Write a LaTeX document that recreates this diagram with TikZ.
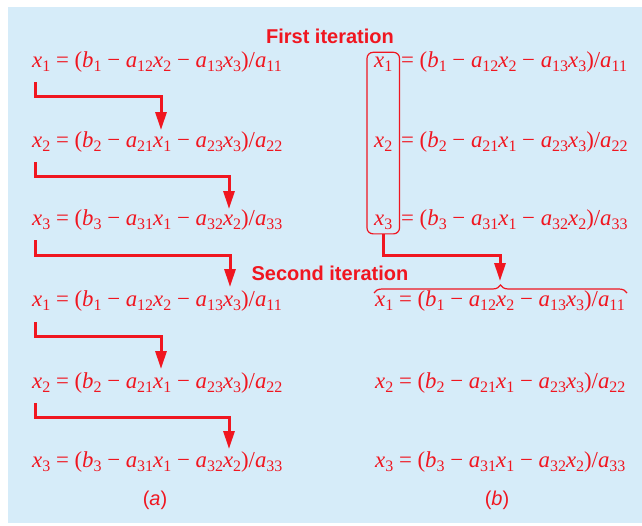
\documentclass[tikz,border=0pt]{standalone}
\usepackage{fontspec}
\setmainfont{Liberation Serif}
\newfontfamily\hdfont{Liberation Sans}
\usetikzlibrary{arrows.meta,decorations.pathreplacing,fit}
\definecolor{eqred}{RGB}{240,22,32}
\definecolor{bgblue}{RGB}{214,236,249}
\newcommand\mysub[1]{\raisebox{-4.5pt}{\fontsize{16}{16}\selectfont #1}}
\newcommand\V[2]{\textit{#1}\mysub{#2}}
\newcommand\Rhs[3]{= (\V{b}{#1} − \V{a}{#1#2}\V{x}{#2} − \V{a}{#1#3}\V{x}{#3})/\V{a}{#1#1}}
\newcommand\EqRow[3]{\V{x}{#1} \Rhs{#1}{#2}{#3}}
\begin{document}
\begin{tikzpicture}[x=1pt,y=-1pt,
  eq/.style={anchor=base west, inner sep=0pt, text=eqred, font=\fontsize{22.8}{26}\selectfont},
  hd/.style={anchor=base, inner sep=0pt, text=eqred, font=\hdfont\bfseries\fontsize{20}{24}\selectfont},
  lab/.style={anchor=base, inner sep=0pt, text=eqred, font=\hdfont\fontsize{20}{24}\selectfont},
  flow/.style={draw=eqred, line width=3pt, -{Triangle[width=11pt,length=18pt]}},
  bx/.style={draw=eqred, line width=1.2pt, rounded corners=6pt, inner xsep=7pt, inner ysep=4pt},
  brc/.style={draw=eqred, line width=1.2pt, decorate, decoration={brace, amplitude=8pt}}]
\useasboundingbox (0,0) rectangle (642,525);
\fill[bgblue] (8,7) rectangle (642,523);
% headings
\node[hd] (first) at (330,43) {First iteration};
\node[hd] (second) at (330,280) {Second iteration};
% left column
\node[eq] (l1) at (32,67) {\EqRow{1}{2}{3}};
\node[eq] (l2) at (32,147) {\EqRow{2}{1}{3}};
\node[eq] (l3) at (32,225) {\EqRow{3}{1}{2}};
\node[eq] (l4) at (32,306) {\EqRow{1}{2}{3}};
\node[eq] (l5) at (32,388) {\EqRow{2}{1}{3}};
\node[eq] (l6) at (32,467) {\EqRow{3}{1}{2}};
% right column
\node[eq] (r1x) at (374,67) {\V{x}{1}};
\node[eq] (r1) at (401,67) {\Rhs{1}{2}{3}};
\node[eq] (r2x) at (374,147) {\V{x}{2}};
\node[eq] (r2) at (401,147) {\Rhs{2}{1}{3}};
\node[eq] (r3x) at (374,225) {\V{x}{3}};
\node[eq] (r3) at (401,225) {\Rhs{3}{1}{2}};
\node[eq] (r4) at (375,306) {\EqRow{1}{2}{3}};
\node[eq] (r5) at (375,388) {\EqRow{2}{1}{3}};
\node[eq] (r6) at (375,467) {\EqRow{3}{1}{2}};
% labels
\node[lab] (la) at (155,505) {(\textit{a})};
\node[lab] (lb) at (497,505) {(\textit{b})};
% left arrows
\coordinate (s1) at (35,82);  \coordinate (t1) at (161,130);
\coordinate (s2) at (35,162); \coordinate (t2) at (229,209);
\coordinate (s3) at (35,240); \coordinate (t3) at (230,287);
\coordinate (s4) at (35,322); \coordinate (t4) at (161,369);
\coordinate (s5) at (35,403); \coordinate (t5) at (229,449);
\draw[flow] (s1) -- ++(0,14) -| (t1);
\draw[flow] (s2) -- ++(0,14) -| (t2);
\draw[flow] (s3) -- ++(0,15) -| (t3);
\draw[flow] (s4) -- ++(0,14) -| (t4);
\draw[flow] (s5) -- ++(0,14) -| (t5);
% right: box, arrow, brace
\node[bx, fit=(r1x)(r3x)] (box) {};
\coordinate (tb) at (500,281);
\draw[flow] (box.south) -- ++(0,21) -| (tb);
\coordinate (bl) at (374,293);
\coordinate (br) at (627,293);
\draw[brc] (bl) -- (br);
\end{tikzpicture}
\end{document}
